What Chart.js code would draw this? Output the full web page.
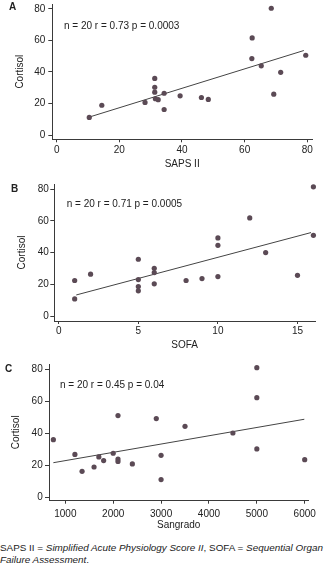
<!DOCTYPE html>
<html><head><meta charset="utf-8">
<script src="https://cdn.jsdelivr.net/npm/chart.js@4/dist/chart.umd.min.js"></script>
<style>
body{margin:0;background:#fff;}
#wrap{position:relative;width:328px;height:567px;overflow:hidden;background:#fff;font-family:"Liberation Sans",Arial,sans-serif;color:#222;}
canvas{position:absolute;left:0;}
.lbl{position:absolute;font-weight:bold;font-size:10px;line-height:10px;}
.cap{position:absolute;left:0;font-size:9.9px;line-height:12px;white-space:nowrap;}
</style></head>
<body><div id="wrap">
<canvas id="cA" width="328" height="175" style="top:0px"></canvas>
<canvas id="cB" width="328" height="175" style="top:180px"></canvas>
<canvas id="cC" width="328" height="175" style="top:360px"></canvas>
<div class="lbl" style="left:9px;top:2px">A</div>
<div class="lbl" style="left:11px;top:184px">B</div>
<div class="lbl" style="left:5px;top:364px">C</div>
<div class="cap" style="top:542px">SAPS II = <i>Simplified Acute Physiology Score II</i>, SOFA = <i>Sequential Organ</i></div>
<div class="cap" style="top:554px"><i>Failure Assessment</i>.</div>
</div>
<script>
// ---- data ----
const cortisolTicks = [0, 20, 40, 60, 80];

const sapsTicks = [0, 20, 40, 60, 80];
const sapsX = [10.4,14.4,28.2,31.3,31.3,31.3,31.5,32.4,34.3,34.3,39.4,46.2,48.4,62.4,62.3,65.3,68.5,69.3,71.5,79.5];
const sapsCortisol = [11.2,18.9,20.7,35.9,30.3,27.2,23.0,22.4,26.5,16.2,24.9,23.8,22.6,61.6,48.5,43.9,80.4,25.9,39.8,50.6];
const sapsFitX = [10.4, 78.9];
const sapsFitY = [11.4, 53.6];
const sapsNote = "n = 20 r = 0.73 p = 0.0003";

const sofaTicks = [0, 5, 10, 15];
const sofaX = [1,1,2,5,5,5,5,6,6,6,8,9,10,10,10,12,13,15,16,16];
const sofaCortisol = [22.5,10.9,26.5,35.9,23.1,18.7,16.0,30.2,27.5,20.4,22.5,23.7,49.3,44.7,25.0,61.9,40.1,25.8,81.5,51.0];
const sofaFitX = [1.1, 15.85];
const sofaFitY = [13.4, 52.7];
const sofaNote = "n = 20 r = 0.71 p = 0.0005";

const sangTicks = [1000, 2000, 3000, 4000, 5000, 6000];
const sangX = [750,1200,1350,1600,1700,1800,2000,2100,2100,2100,2400,2900,3000,3000,3500,4500,5000,5000,5000,6000];
const sangCortisol = [35.9,26.7,16.1,18.8,25.1,22.8,27.4,51.0,23.8,22.3,20.7,49.1,26.1,10.9,44.3,40.1,81.0,62.2,30.1,23.4];
const sangFitX = [750, 5992];
const sangFitY = [21.5, 48.7];
const sangNote = "n = 20 r = 0.45 p = 0.04";

// ---- drawing ----
const FONT = "'Liberation Sans', Arial, sans-serif";
const INK = '#222';
const AXIS = '#3a3a3a';
const PT = '#5b4a55';

const notePlugin = {
  id: 'statNote',
  afterDraw(chart, args, opts) {
    const {ctx, chartArea} = chart;
    ctx.save();
    ctx.font = '10px ' + FONT;
    ctx.fillStyle = INK;
    ctx.textBaseline = 'middle';
    ctx.textAlign = 'left';
    ctx.fillText(opts.text, chartArea.left + opts.dx, chartArea.top + opts.dy);
    ctx.restore();
  }
};

function pts(xs, ys) { return xs.map((x, i) => ({x: x, y: ys[i]})); }

function makePanel(id, cfg) {
  const H = 175, W = 328;
  new Chart(document.getElementById(id), {
    type: 'scatter',
    data: {
      datasets: [
        {data: pts(cfg.fitX, cfg.fitY), showLine: true, pointRadius: 0, borderColor: '#444', borderWidth: 1, order: 2, clip: false},
        {data: pts(cfg.xs, cfg.ys), pointRadius: 2.6, pointBackgroundColor: PT, pointBorderWidth: 0, borderColor: PT, order: 1, clip: false}
      ]
    },
    options: {
      responsive: false, animation: false, devicePixelRatio: 1,
      layout: {padding: {left: 0, top: cfg.top, right: W - cfg.right, bottom: 0}},
      plugins: {legend: {display: false}, tooltip: {enabled: false}, statNote: {text: cfg.note, dx: cfg.ndx, dy: cfg.ndy}},
      scales: {
        x: {
          type: 'linear', min: cfg.xmin, max: cfg.xmax,
          afterBuildTicks: s => { s.ticks = cfg.xticks.map(v => ({value: v})); },
          afterFit: s => { s.height = H - cfg.bottom; s.paddingLeft = 0; s.paddingRight = 0; },
          grid: {drawOnChartArea: false, drawTicks: true, tickLength: 3, color: AXIS, lineWidth: 1},
          border: {display: true, color: AXIS, width: 1},
          ticks: {color: INK, font: {size: 10, family: FONT}, padding: cfg.xpad, maxRotation: 0, autoSkip: false, callback: v => String(v)},
          title: {display: true, text: cfg.xtitle, color: INK, font: {size: 10, family: FONT}, padding: {top: 0, bottom: cfg.xtpad}}
        },
        y: {
          type: 'linear', min: cfg.ymin, max: cfg.ymax,
          afterBuildTicks: s => { s.ticks = cortisolTicks.map(v => ({value: v})); },
          afterFit: s => { s.width = cfg.left; s.paddingTop = 0; s.paddingBottom = 0; },
          grid: {drawOnChartArea: false, drawTicks: true, tickLength: 4, color: AXIS, lineWidth: 1},
          border: {display: true, color: AXIS, width: 1},
          ticks: {color: INK, font: {size: 10, family: FONT}, padding: cfg.ypad, autoSkip: false, callback: v => String(v)},
          title: {display: true, text: 'Cortisol', color: INK, font: {size: 10, family: FONT}, padding: {top: cfg.ytpad, bottom: 0}}
        }
      }
    },
    plugins: [notePlugin]
  });
}

makePanel('cA', {xs: sapsX, ys: sapsCortisol, fitX: sapsFitX, fitY: sapsFitY, note: sapsNote, xticks: sapsTicks, xtitle: 'SAPS II',
  left: 52.3, right: 312, top: 2, bottom: 139.3, xmin: -1.4, xmax: 81.5, ymin: -2.7, ymax: 83.1,
  xpad: 1.7, xtpad: 5, ypad: 3, ytpad: 14.5, ndx: 11.7, ndy: 22});
makePanel('cB', {xs: sofaX, ys: sofaCortisol, fitX: sofaFitX, fitY: sofaFitY, note: sofaNote, xticks: sofaTicks, xtitle: 'SOFA',
  left: 54.3, right: 315, top: 4, bottom: 141, xmin: -0.28, xmax: 16.1, ymin: -3.0, ymax: 83.3,
  xpad: 1.7, xtpad: 3.3, ypad: 1.5, ytpad: 16, ndx: 12.4, ndy: 20.7});
makePanel('cC', {xs: sangX, ys: sangCortisol, fitX: sangFitX, fitY: sangFitY, note: sangNote, xticks: sangTicks, xtitle: 'Sangrado',
  left: 49, right: 308.3, top: 4, bottom: 140.7, xmin: 659, xmax: 6075, ymin: -2.3, ymax: 83.3,
  xpad: 4.3, xtpad: 3.3, ypad: 2.3, ytpad: 10.5, ndx: 11, ndy: 21});
</script>
</body></html>
